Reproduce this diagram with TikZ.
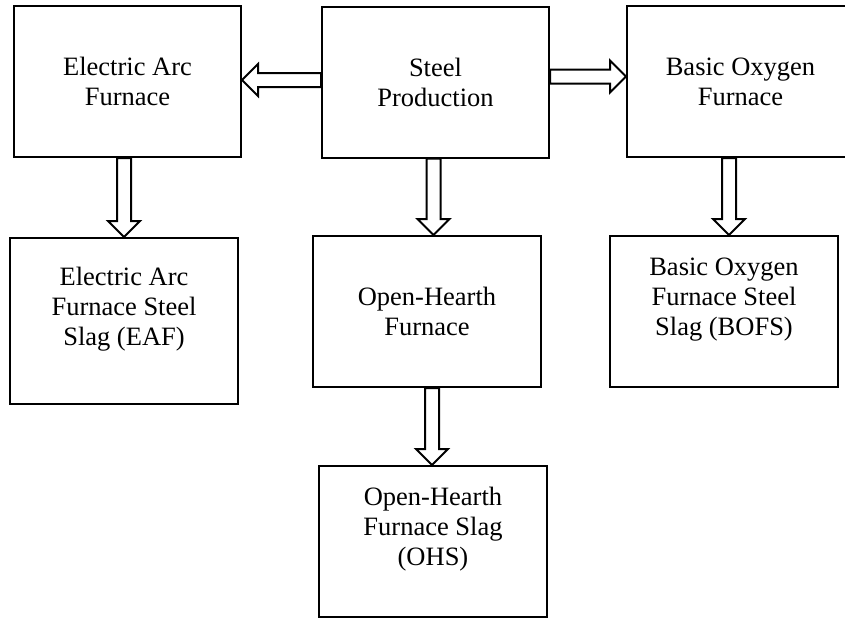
\documentclass[tikz,border=0pt]{standalone}
\usepackage{fontspec}
\setmainfont{Liberation Serif}
\usetikzlibrary{calc}

% hollow block arrow from one border point to another
\newcommand{\fatarrow}[2]{%
  \draw [line width=2pt, fill=white, line join=miter]
    let \p1=#1, \p2=#2, \n1={atan2(\y2-\y1,\x2-\x1)}, \n2={veclen(\x2-\x1,\y2-\y1)} in
    [shift={(\p1)}, rotate=\n1] (0,-7) -- (\n2-16,-7) -- (\n2-16,-16) -- (\n2,0)
    -- (\n2-16,16) -- (\n2-16,7) -- (0,7) -- cycle;}

\begin{document}
\begin{tikzpicture}[x=1pt, y=-1pt,
  box/.style={draw, line width=2pt, inner sep=0pt, align=center,
    minimum width=227pt, minimum height=151pt,
    font=\fontsize{26.5}{30}\selectfont}]
\useasboundingbox (0,0) rectangle (845,619);
\clip (0,0) rectangle (845,619);

\node [box] (steel) at (435.5,82) {Steel\\Production};
\node [box] (eaf) at (127.5,81.5) {Electric Arc\\Furnace};
\node [box] (bof) at (740.5,81.5) {Basic Oxygen\\Furnace};
\node [box, minimum width=228pt, minimum height=166pt] (eafs) at (124,321)
  {Electric Arc\\Furnace Steel\\Slag (EAF)\\ \mbox{}};
\node [box, minimum width=228pt] (oh) at (427,311.5) {Open-Hearth\\Furnace};
\node [box, minimum width=228pt] (bofs) at (724,311.5)
  {Basic Oxygen\\Furnace Steel\\Slag (BOFS)\\ \mbox{}};
\node [box, minimum width=228pt] (ohs) at (433,541.5)
  {Open-Hearth\\Furnace Slag\\(OHS)\\ \mbox{}};

\fatarrow{(0,80 -| steel.west)}{(0,80 -| eaf.east)}
\fatarrow{(0,76.5 -| steel.east)}{(0,76.5 -| bof.west)}
\fatarrow{(433.5,0 |- steel.south)}{(433.5,0 |- oh.north)}
\fatarrow{(124,0 |- eaf.south)}{(124,0 |- eafs.north)}
\fatarrow{(729,0 |- bof.south)}{(729,0 |- bofs.north)}
\fatarrow{(432,0 |- oh.south)}{(432,0 |- ohs.north)}
\end{tikzpicture}
\end{document}
